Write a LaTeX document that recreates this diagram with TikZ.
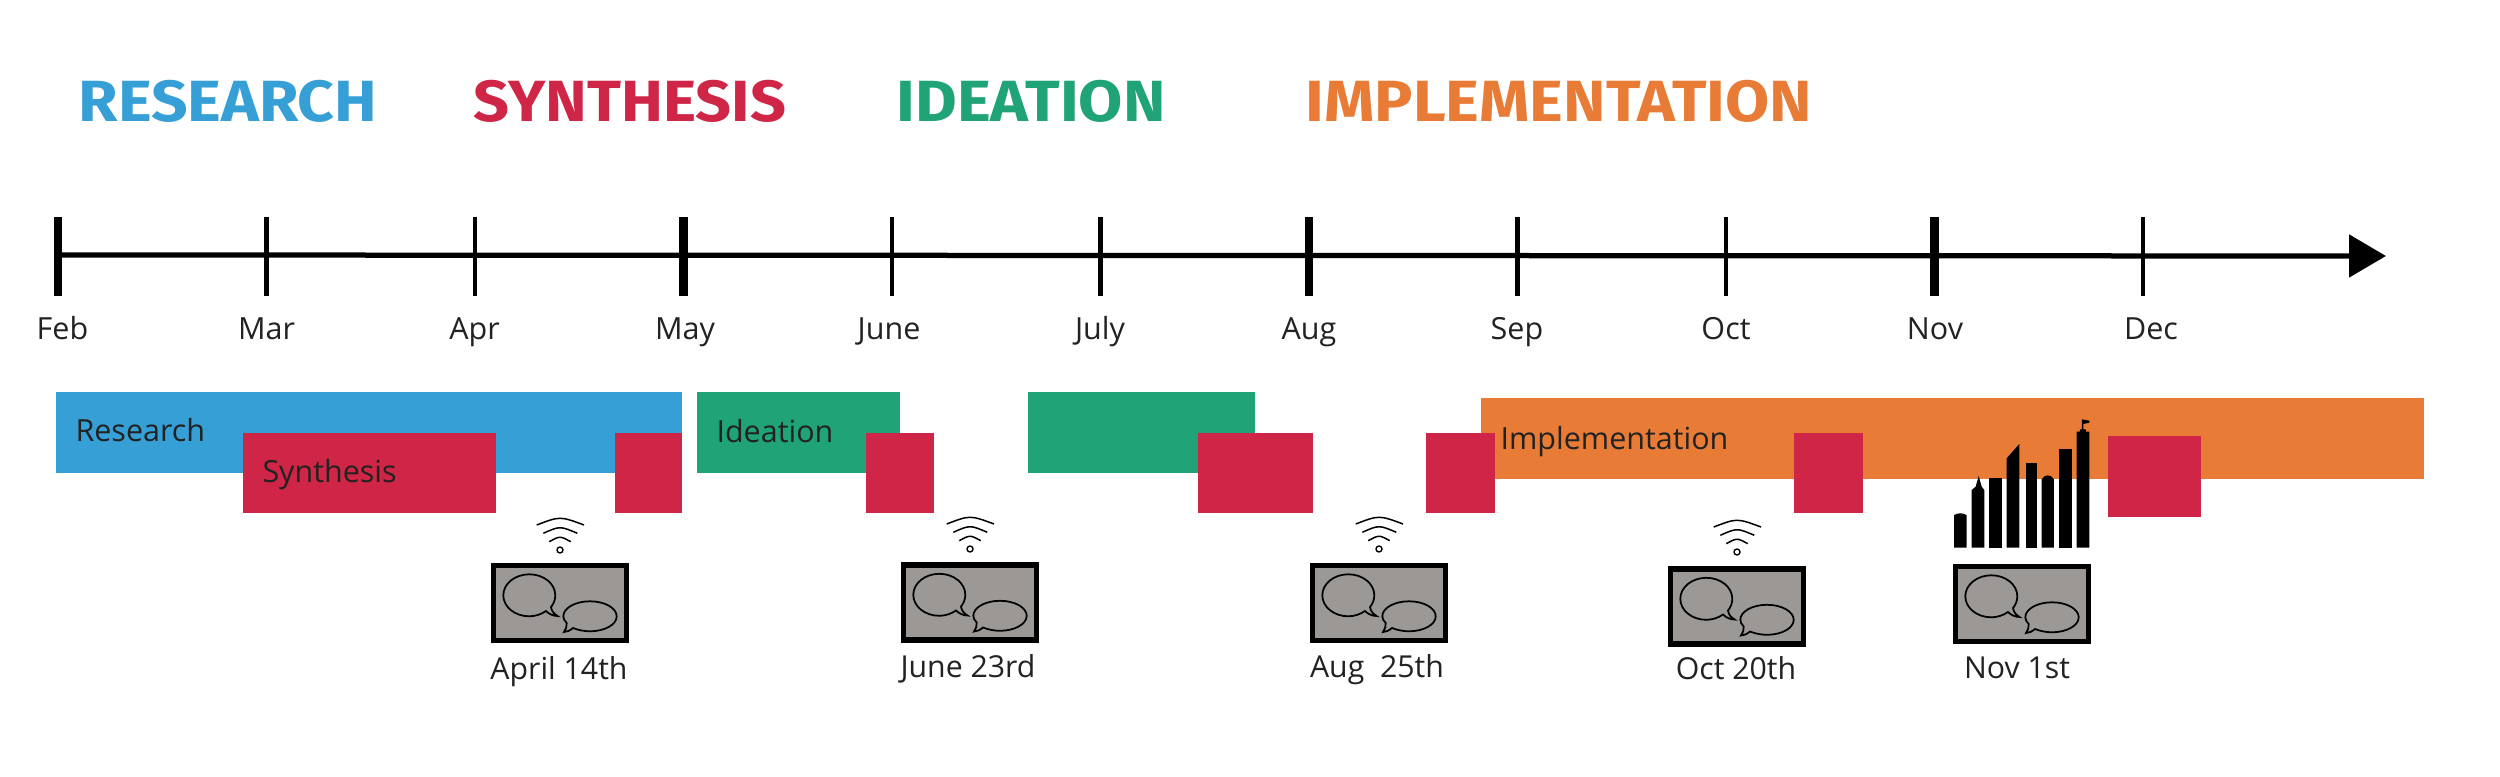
\documentclass[tikz,border=0pt]{standalone}
\usepackage{fontspec}
\usepackage{graphicx}
\setmainfont{Open Sans}
\newfontfamily\titlefont{Fira Sans}
\usetikzlibrary{arrows.meta}
\definecolor{cblue}{HTML}{369FD6}
\definecolor{cred}{HTML}{CF2546}
\definecolor{cgreen}{HTML}{1FA377}
\definecolor{corange}{HTML}{E87C36}
\definecolor{cgray}{HTML}{9C9896}
\definecolor{ctext}{HTML}{222222}
\tikzset{
  title/.style={anchor=base west,inner sep=0pt,font=\titlefont\bfseries},
  monthlabel/.style={anchor=base,inner sep=0pt,text=ctext,font=\fontsize{12.2}{14}\selectfont},
  barlabel/.style={anchor=base west,inner sep=0pt,text=ctext,font=\fontsize{12.2}{14}\selectfont},
  datelabel/.style={anchor=base,inner sep=0pt,text=ctext,font=\fontsize{12.1}{14}\selectfont},
  barbox/.style={draw=none,inner sep=0pt,anchor=north west},
  axisline/.style={line width=2.1pt,-{Triangle[length=14.8pt,width=16.8pt]}},
  minortick/.style={line width=1.9pt},
  majortick/.style={line width=3.4pt},
  meeting/.pic={
    \path[fill=cgray,draw=black,line width=2.1pt] (2.6,2.6) rectangle (135.4,77.4);
    \draw[line width=.7pt,fill=cgray] (60,44) .. controls (60.5,48) and (63,51) .. (66.5,53)
      .. controls (62,53) and (58,51) .. (55,48)
      .. controls (50,51.5) and (44,53.3) .. (38.3,53.3)
      .. controls (24,53.3) and (12.3,44) .. (12.3,32.3)
      .. controls (12.3,20.7) and (24,11.3) .. (38.3,11.3)
      .. controls (52.7,11.3) and (64.3,20.7) .. (64.3,32.3)
      .. controls (64.3,37) and (62.5,41) .. (60,44) -- cycle;
    \draw[line width=.7pt,fill=cgray] (75.7,60) .. controls (76,63) and (75,66.5) .. (73,69)
      .. controls (76,69) and (79,67.5) .. (82,65)
      .. controls (87,67) and (93,68.3) .. (99,68.3)
      .. controls (113.7,68.3) and (125.7,61.6) .. (125.7,53.3)
      .. controls (125.7,45) and (113.7,38.3) .. (99,38.3)
      .. controls (84.3,38.3) and (72.3,45) .. (72.3,53.3)
      .. controls (72.3,55.5) and (73.5,58) .. (75.7,60) -- cycle;
  },
  wifi/.pic={
    \draw[line width=.55pt] (0,0) circle[radius=1.2pt];
    \draw[line width=.6pt] (-10.7,-8.3) .. controls (0,-14.2) .. (10.7,-8.3);
    \draw[line width=.6pt] (-16.7,-16.7) .. controls (0,-24.1) .. (17.3,-16.7);
    \draw[line width=.6pt] (-23.3,-25) .. controls (0,-33.9) .. (24,-25);
  }
}
\newcommand{\pbar}[6]{%
  \node[barbox,fill=#2,minimum width={(#5-#3)*0.4pt},minimum height={(#6-#4)*0.4pt}] (#1) at (#3,#4) {};}
\begin{document}
\begin{tikzpicture}[x=0.4pt,y=-0.4pt]
\useasboundingbox[fill=white] (0,0) rectangle (2500,777);

% phase titles
\node[title,text=cblue] (tresearch) at (78,122) {\resizebox{119.5pt}{16.5pt}{RESEARCH}};
\node[title,text=cred] (tsynthesis) at (473,122) {\resizebox{125pt}{16.5pt}{SYNTHESIS}};
\node[title,text=cgreen] (tideation) at (896,122) {\resizebox{107.6pt}{16.5pt}{IDEATION}};
\node[title,text=corange] (timplementation) at (1305,122) {\resizebox{202.6pt}{16.5pt}{IMPLEMENTATION}};

% axis
\coordinate (axisstart) at (58,255);
\coordinate (axisend) at (2386,256);
\draw[axisline] (axisstart) -- (axisend);
\foreach \nm/\tx/\st in {feb/58/majortick,mar/266.5/minortick,apr/475/minortick,may/683.5/majortick,jun/892/minortick,jul/1100.5/minortick,aug/1309/majortick,sep/1517.5/minortick,oct/1726/minortick,nov/1934.5/majortick,dec/2143/minortick}{
  \coordinate (\nm top) at (\tx,217);
  \coordinate (\nm bot) at (\tx,296);
  \draw[\st] (\nm top) -- (\nm bot);
}
\node[monthlabel] (lfeb) at (62.5,340) {Feb};
\node[monthlabel] (lmar) at (266.5,340) {Mar};
\node[monthlabel] (lapr) at (474.5,340) {Apr};
\node[monthlabel] (lmay) at (685,340) {May};
\node[monthlabel] (ljun) at (889,340) {June};
\node[monthlabel] (ljul) at (1100,340) {July};
\node[monthlabel] (laug) at (1309,340) {Aug};
\node[monthlabel] (lsep) at (1517,340) {Sep};
\node[monthlabel] (loct) at (1726,340) {Oct};
\node[monthlabel] (lnov) at (1935,340) {Nov};
\node[monthlabel] (ldec) at (2151,340) {Dec};

% bars
\pbar{bresearch}{cblue}{55}{392}{681.5}{473}
\pbar{bideation}{cgreen}{696.5}{392}{899.5}{472.5}
\pbar{bideationb}{cgreen}{1027.5}{392}{1254.5}{472.5}
\pbar{bimpl}{corange}{1480.5}{398}{2423}{479}
\pbar{rsynth}{cred}{242.5}{433}{495}{513}
\pbar{rb}{cred}{614}{433}{681.5}{513}
\pbar{rc}{cred}{865.5}{433}{933.5}{513}
\pbar{rd}{cred}{1197}{433}{1312}{513}
\pbar{re}{cred}{1425}{433}{1494}{513}
\pbar{rf}{cred}{1793}{433}{1862}{513}
\pbar{rg}{cred}{2107}{436}{2200.5}{517}
\node[barlabel] (lresearch) at (75,442) {Research};
\node[barlabel] (lsynth) at (262,483) {Synthesis};
\node[barlabel] (lideation) at (716,443) {Ideation};
\node[barlabel] (limpl) at (1500,450) {Implementation};

% skyline
\begin{scope}[shift={(1930,400)},x=0.1333pt,y=-0.1333pt]
\fill[black] (72,443) -- (72,346) .. controls (78,338) and (104,338) .. (110,346) -- (110,443) -- cycle;
\fill[black] (125,443) -- (125,270) -- (137,260) -- (146,228) -- (155,260) -- (163,270) -- (163,443) -- cycle;
\fill[black] (177,443) rectangle (215,233);
\fill[black] (230,443) -- (230,175) -- (268,132) -- (268,443) -- cycle;
\fill[black] (287,443) rectangle (321,190);
\fill[black] (335,443) -- (335,238) .. controls (345,222) and (362,222) .. (372,238) -- (372,443) -- cycle;
\fill[black] (388,443) rectangle (425,148);
\fill[black] (440,443) -- (440,95) -- (450,95) -- (450,88) -- (456,88) -- (456,58) -- (478,62) -- (478,68) -- (460,72) -- (460,88) -- (468,88) -- (468,95) -- (478,95) -- (478,443) -- cycle;
\end{scope}

% meetings
\pic at (491,563) {meeting};
\pic at (901,562.5) {meeting};
\pic at (1310,563) {meeting};
\pic at (1668,566.5) {meeting};
\pic at (1953,564) {meeting};
\pic at (560,550) {wifi};
\pic at (970,549) {wifi};
\pic at (1379,549) {wifi};
\pic at (1737,552) {wifi};
\node[datelabel] (dapr) at (559,680) {April 14th};
\node[datelabel] (djun) at (968,678) {June 23rd};
\node[datelabel] (daug) at (1377,678) {Aug\ \ 25th};
\node[datelabel] (doct) at (1736,680) {Oct 20th};
\node[datelabel] (dnov) at (2017,679) {Nov 1st};
\end{tikzpicture}
\end{document}
